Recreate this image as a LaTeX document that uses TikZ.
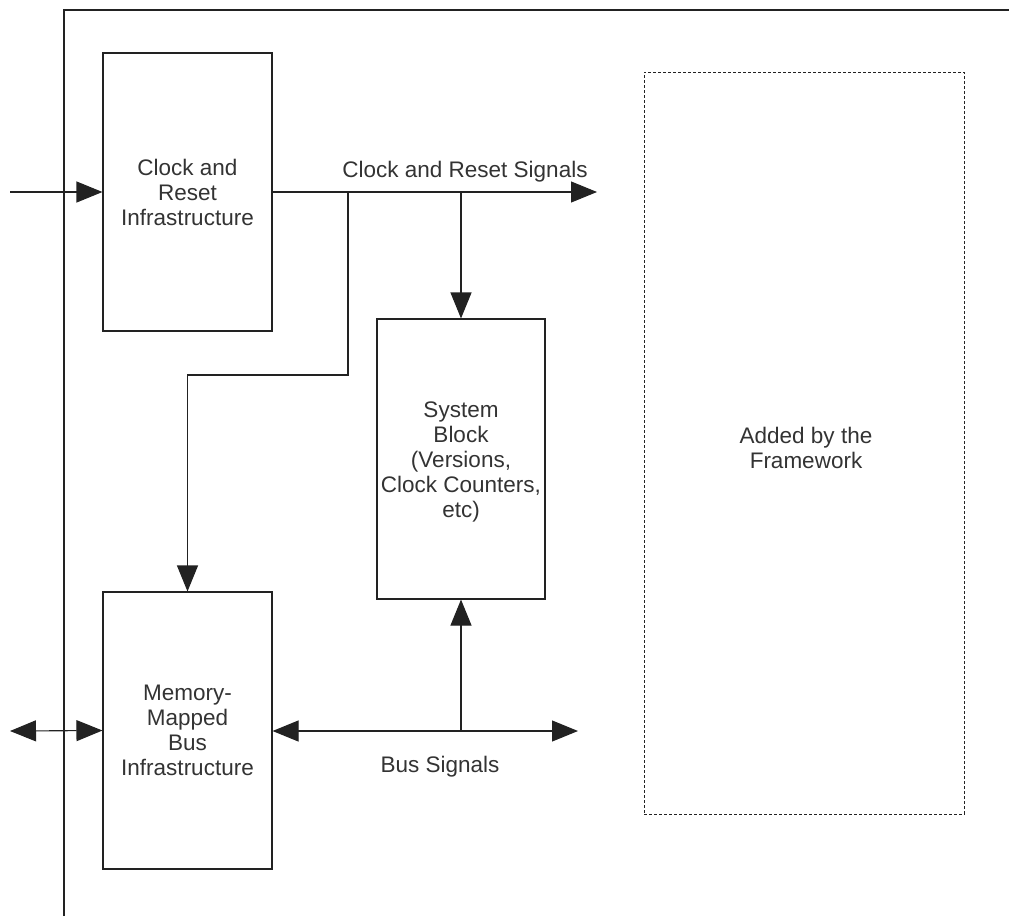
\documentclass[tikz,border=0pt]{standalone}
\usepackage{fontspec}
\setmainfont{Liberation Sans}
\usetikzlibrary{arrows.meta}
\definecolor{ink}{HTML}{222222}
\definecolor{txt}{HTML}{333333}
\begin{document}
\begin{tikzpicture}[x=1pt,y=-1pt,
  font=\fontsize{22.5}{25}\selectfont,
  every node/.style={text=txt},
  block/.style={draw=ink, line width=1.1pt, rectangle, align=center, inner sep=0pt},
  region/.style={draw=ink, line width=1pt, dash pattern=on 3pt off 2pt, rectangle, align=center, inner sep=0pt},
  wire/.style={draw=ink, line width=1.1pt},
  arr/.style={wire, -{Triangle[length=26pt,width=21pt]}},
  biarr/.style={wire, {Triangle[length=26pt,width=21pt]}-{Triangle[length=26pt,width=21pt]}},
  lbl/.style={inner sep=0pt, text=txt}]
\useasboundingbox (0,0) rectangle (1009,916);

% enclosing frame
\draw[wire] (64,916) -- (64,10) -- (1009,10);

% blocks
\node[block, minimum width=169pt, minimum height=278pt] (clk) at (187.5,192)
  {Clock and\\Reset\\Infrastructure};
\node[block, minimum width=168pt, minimum height=280pt] (sys) at (461,459) {};
\node[lbl, align=center] (syslbl) at (461,462)
  {System\\Block\\(Versions,\\Clock Counters,\\etc)};
\node[region, minimum width=320pt, minimum height=742pt] (fw) at (804,443) {};
\node[lbl, align=center] (fwlbl) at (806,448) {Added by the\\Framework};
\node[block, minimum width=169pt, minimum height=277pt] (mem) at (187.5,730.5)
  {Memory-\\Mapped\\Bus\\Infrastructure};

% free ends and junctions
\coordinate (clkin) at (10,192);
\coordinate (clkout) at (597,192);
\coordinate (tap) at (348,192);
\coordinate (busin) at (10,731);
\coordinate (busout) at (578,731);

% clock and reset distribution
\draw[arr] (clkin) -- (clk);
\draw[arr] (clk.east) -- (clkout);
\node[lbl, anchor=base] (clklbl) at (465,177) {Clock and Reset Signals};
\draw[arr] (sys.north |- clkout) -- (sys.north);
\draw[arr] (tap) -- (348,375) -| (mem.north);

% memory-mapped bus
\draw[biarr] (busin) -- (mem.west);
\draw[biarr] (mem.east |- busout) -- (busout);
\draw[arr] (sys.south |- busout) -- (sys.south);
\node[lbl, anchor=base] (buslbl) at (440,772) {Bus Signals};
\end{tikzpicture}
\end{document}
